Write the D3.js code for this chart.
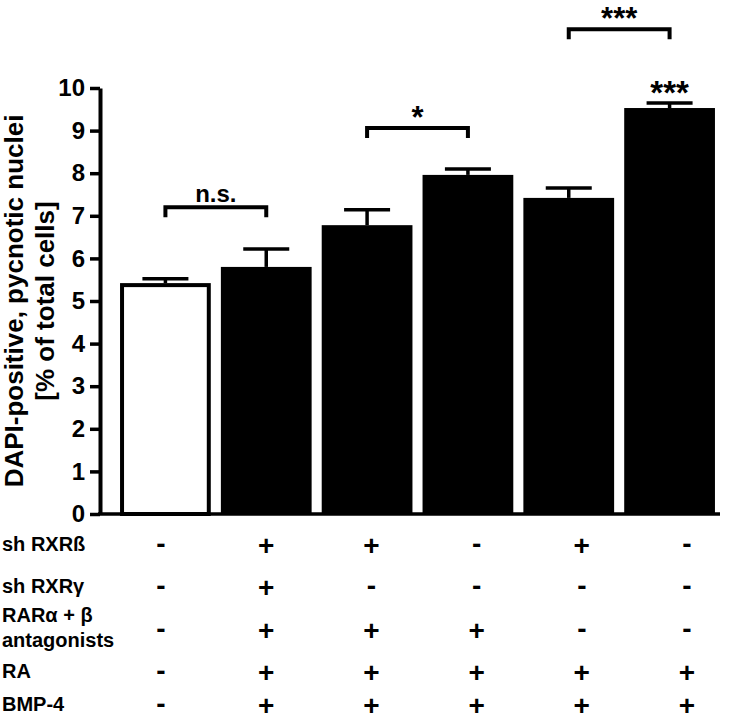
<!DOCTYPE html>
<html><head><meta charset="utf-8">
<script src="https://cdn.jsdelivr.net/npm/d3@7"></script>
<style>
body{margin:0;background:#fff}
text{font-family:"Liberation Sans",Arial,Helvetica,sans-serif;font-weight:bold;fill:#000}
</style>
</head><body>
<svg id="chart" width="740" height="722"></svg>
<script>
// ---------- data ----------
const categories = ["control", "shRXRb+shRXRg+antag+RA+BMP4", "shRXRb+antag+RA+BMP4", "antag+RA+BMP4", "shRXRb+RA+BMP4", "RA+BMP4"];
const means = [5.42, 5.80, 6.78, 7.96, 7.42, 9.53];
const sems  = [0.10, 0.42, 0.36, 0.14, 0.23, 0.12];
const barFills = ["white", "black", "black", "black", "black", "black"];
const yTicks = [0, 1, 2, 3, 4, 5, 6, 7, 8, 9, 10];
const yLabelLines = ["DAPI-positive, pycnotic nuclei", "[% of total cells]"];
const rowLabels = [["sh RXRß"], ["sh RXRγ"], ["RARα + β", "antagonists"], ["RA"], ["BMP-4"]];
const rowSigns = [
  ["-", "+", "+", "-", "+", "-"],
  ["-", "+", "-", "-", "-", "-"],
  ["-", "+", "+", "+", "-", "-"],
  ["-", "+", "+", "+", "+", "+"],
  ["-", "+", "+", "+", "+", "+"]
];
const bracketFrom  = [0, 2, 4];
const bracketTo    = [1, 3, 5];
const bracketLevel = [7.2, 9.06, 11.38];
const bracketText  = ["n.s.", "*", "***"];
const barStarIndex = [5];
const barStarText  = ["***"];

// ---------- layout ----------
const svg = d3.select("#chart");
const axisX = 100;
const x = d3.scaleBand().domain(categories).range([115, 720]).paddingInner(0.1).paddingOuter(0.05);
const y = d3.scaleLinear().domain([0, 10]).range([514, 88]);
const colX = d3.scalePoint().domain(categories).range([161, 687]);
const rowCenters = [546, 588, 631, 673, 706];
const bw = x.bandwidth();

// bars
svg.append("g").selectAll("rect").data(categories).join("rect")
  .attr("x", (d, i) => barFills[i] === "white" ? x(d) + 2 : x(d))
  .attr("y", (d, i) => barFills[i] === "white" ? y(means[i]) + 2 : y(means[i]))
  .attr("width", (d, i) => barFills[i] === "white" ? bw - 4 : bw)
  .attr("height", (d, i) => y(0) - y(means[i]) - (barFills[i] === "white" ? 2 : 0))
  .attr("fill", (d, i) => barFills[i])
  .attr("stroke", (d, i) => barFills[i] === "white" ? "#000" : "none")
  .attr("stroke-width", 4);

// error bars
const eb = svg.append("g").attr("stroke", "#000").attr("stroke-width", 3.5);
categories.forEach((c, i) => {
  const cx = x(c) + bw / 2;
  eb.append("line").attr("x1", cx).attr("x2", cx).attr("y1", y(means[i])).attr("y2", y(means[i] + sems[i]));
  eb.append("line").attr("x1", cx - 23).attr("x2", cx + 23).attr("y1", y(means[i] + sems[i])).attr("y2", y(means[i] + sems[i]));
});

// y axis
const yAxis = d3.axisLeft(y).tickValues(yTicks).tickSize(10).tickSizeOuter(0).tickPadding(5);
const gA = svg.append("g").attr("transform", `translate(${axisX},0)`).call(yAxis);
gA.select(".domain").attr("stroke", "#000").attr("stroke-width", 4);
gA.selectAll(".tick line").attr("stroke", "#000").attr("stroke-width", 3.5);
gA.selectAll(".tick text").style("font-size", "24px").attr("fill", "#000")
  .style("font-family", '"Liberation Sans",Arial,sans-serif').style("font-weight", "bold");

// baseline
svg.append("line").attr("x1", axisX - 2).attr("x2", 720).attr("y1", y(0)).attr("y2", y(0))
  .attr("stroke", "#000").attr("stroke-width", 3.5);

// y label
const yl = svg.append("text").attr("transform", `translate(0,${(y(0) + y(10)) / 2}) rotate(-90)`)
  .attr("text-anchor", "middle").style("font-size", "26px");
yLabelLines.forEach((t, i) => yl.append("tspan").attr("x", 0).attr("y", i === 0 ? 23 : 54).text(t));

// significance brackets
bracketText.forEach((t, k) => {
  const x1 = x(categories[bracketFrom[k]]) + bw / 2;
  const x2 = x(categories[bracketTo[k]]) + bw / 2;
  const yy = y(bracketLevel[k]);
  svg.append("path").attr("d", `M${x1},${yy + 10}V${yy}H${x2}V${yy + 10}`)
    .attr("fill", "none").attr("stroke", "#000").attr("stroke-width", 4);
  const star = t.includes("*");
  svg.append("text").attr("x", (x1 + x2) / 2).attr("y", yy - (star ? 0 : 5))
    .attr("text-anchor", "middle").style("font-size", star ? "31px" : "24px").text(t);
});
barStarText.forEach((t, k) => {
  const i = barStarIndex[k];
  svg.append("text").attr("x", x(categories[i]) + bw / 2).attr("y", y(means[i] + sems[i]) + 1)
    .attr("text-anchor", "middle").style("font-size", "33px").text(t);
});

// condition table
rowLabels.forEach((lines, r) => {
  const cy = rowCenters[r];
  const t = svg.append("text").style("font-size", "20px").attr("x", 2);
  if (lines.length === 1) {
    t.append("tspan").attr("x", 2).attr("y", cy + 5).text(lines[0]);
  } else {
    t.append("tspan").attr("x", 2).attr("y", cy - 9).text(lines[0]);
    t.append("tspan").attr("x", 2).attr("y", cy + 16).text(lines[1]);
  }
  rowSigns[r].forEach((s, c) => {
    svg.append("text").attr("x", colX(categories[c])).attr("y", cy + (s === "+" ? 9 : 6.5))
      .attr("text-anchor", "middle").style("font-size", "28px").text(s);
  });
});
</script>
</body></html>
